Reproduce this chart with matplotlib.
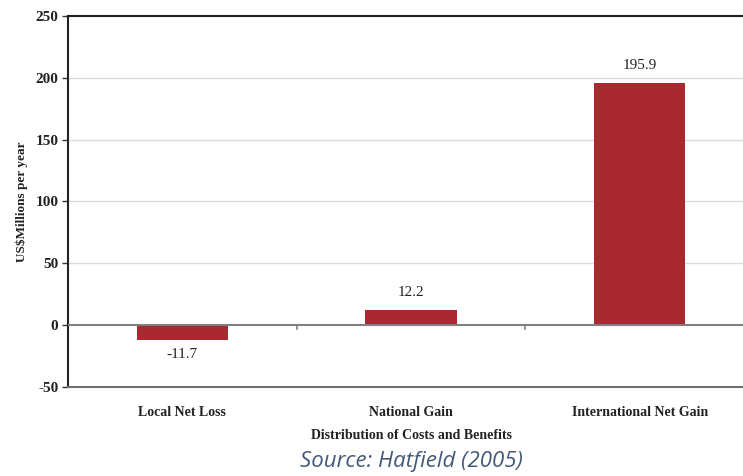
import matplotlib.pyplot as plt

categories = ["Local Net Loss", "National Gain", "International Net Gain"]
values = [-11.7, 12.2, 195.9]
yticks = [-50, 0, 50, 100, 150, 200, 250]

serif = ["Liberation Serif", "DejaVu Serif"]
bar_color = "#a82a30"

fig = plt.figure(figsize=(7.43, 4.76), dpi=100)
# axis runs past the right edge, as in the reference
ax = fig.add_axes([68 / 743, 1 - 387 / 476, 686 / 743, 371 / 476])

x = range(len(categories))
ax.bar(x, values, width=0.4, color=bar_color, zorder=3)

for xi, v in zip(x, values):
    if v >= 0:
        ax.annotate(f"{v:.1f}", (xi, v), xytext=(0, 8), textcoords="offset points",
                    ha="center", va="bottom", family=serif, fontsize=11, color="#222222")
    else:
        ax.annotate(f"{v:.1f}", (xi, v), xytext=(0, -6), textcoords="offset points",
                    ha="center", va="top", family=serif, fontsize=11, color="#222222")

ax.set_xlim(-0.5, 2.5)
ax.set_ylim(-50, 250)
ax.set_yticks(yticks)
ax.set_yticklabels([str(t) for t in yticks], family=serif, fontsize=11, fontweight="bold",
                   color="#222222")
ax.set_xticks(list(x))
ax.set_xticklabels(categories, family=serif, fontsize=10, fontweight="bold", color="#222222")
ax.tick_params(axis="x", length=0, pad=14)
ax.tick_params(axis="y", length=4, width=1, color="#333333", pad=3)

for t in [50, 100, 150, 200]:
    ax.axhline(t, color="#dcdcdc", lw=1, zorder=1)

# zero line with category divider ticks
ax.axhline(0, color="#808080", lw=1.5, zorder=4)
for b in [0.5, 1.5]:
    ax.plot([b, b], [0, -3.5], color="#808080", lw=1.2, zorder=4)

ax.spines["left"].set_color("#222222")
ax.spines["left"].set_linewidth(1.5)
ax.spines["top"].set_color("#222222")
ax.spines["top"].set_linewidth(1.5)
ax.spines["bottom"].set_color("#707070")
ax.spines["bottom"].set_linewidth(1.5)
ax.spines["right"].set_visible(False)

ax.set_ylabel("US$Millions per year", family=serif, fontsize=9.5, fontweight="bold",
              color="#222222", labelpad=5)
ax.set_xlabel("Distribution of Costs and Benefits", family=serif, fontsize=10,
              fontweight="bold", color="#222222", labelpad=7)

fig.text(411 / 743, 1 - 462 / 476, "Source: Hatfield (2005)", ha="center", va="center",
         family=["Open Sans", "DejaVu Sans"], style="italic", fontsize=16, color="#44597a")

fig.savefig("out.png", dpi=100, facecolor="white")
